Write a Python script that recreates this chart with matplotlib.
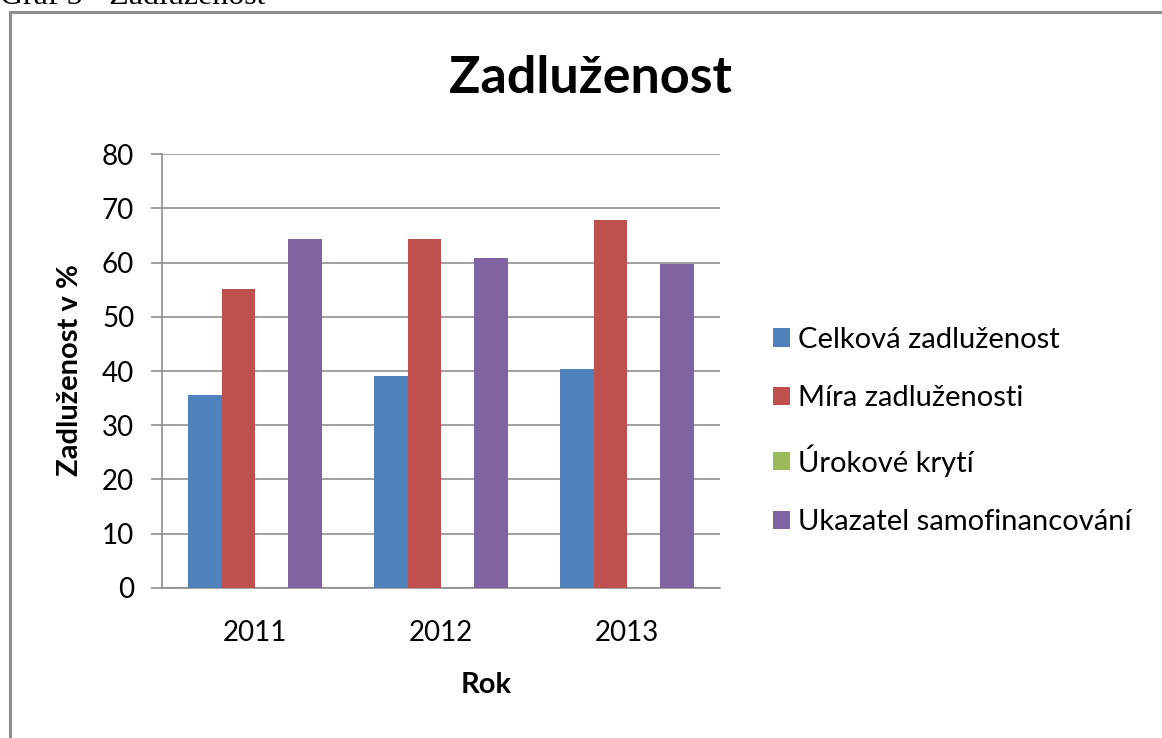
import matplotlib
matplotlib.use("Agg")
import matplotlib.pyplot as plt
from matplotlib.patches import Rectangle
import numpy as np

years = ["2011", "2012", "2013"]
series_names = ["Celková zadluženost", "Míra zadluženosti", "Úrokové krytí", "Ukazatel samofinancování"]
celkova = [35.6, 39.1, 40.4]
mira = [55.1, 64.4, 67.8]
urokove = [0, 0, 0]
samofin = [64.4, 60.9, 59.8]
colors = ["#4F81BD", "#C0504D", "#9BBB59", "#8064A2"]
yticks = [0, 10, 20, 30, 40, 50, 60, 70, 80]

W, H = 1162, 738
fig = plt.figure(figsize=(W / 100, H / 100), dpi=100)
fig.patch.set_facecolor("white")

FONT = "Lato"

# outer chart frame (right/bottom edges outside the image)
fig.patches.append(Rectangle((10 / W, -0.1), 1.2, (H - 12) / H + 0.1,
                             transform=fig.transFigure, fill=False,
                             edgecolor="#8c8c8c", linewidth=2.2))
# cropped caption at the top (cut off in the reference too)
fig.text(0 / W, 1 - 4.5 / H, "Graf 5 - Zadluženost", family="Liberation Serif",
         fontsize=23, va="baseline", ha="left", color="black")

ax = fig.add_axes([162 / W, (H - 587.7) / H, (720 - 162) / W, (587.7 - 154.3) / H])

x = np.arange(len(years))
w = 0.18
data = [celkova, mira, urokove, samofin]
for i, (name, vals, c) in enumerate(zip(series_names, data, colors)):
    ax.bar(x + (i - 1.5) * w, vals, width=w, color=c, label=name, zorder=3)

ax.set_xlim(-0.5, 2.5)
ax.set_ylim(0, 80)
ax.set_yticks(yticks)
ax.set_yticklabels([str(v) for v in yticks], family=FONT, fontsize=20)
ax.set_xticks(x)
ax.set_xticklabels(years, family=FONT, fontsize=20)
ax.grid(axis="y", color="#868686", linewidth=1.1, zorder=0)
ax.set_axisbelow(True)
for s in ["top", "right"]:
    ax.spines[s].set_visible(False)
for s in ["left", "bottom"]:
    ax.spines[s].set_color("#868686")
    ax.spines[s].set_linewidth(1.1)
ax.tick_params(axis="y", length=8, width=1.1, color="#868686", pad=12)
ax.tick_params(axis="x", length=0, pad=23)

fig.text(591 / W, 1 - 93 / H, "Zadluženost", family=FONT, fontweight="bold",
         fontsize=37.5, ha="center", va="baseline")
fig.text(70 / W, 1 - 370 / H, "Zadluženost v %", family=FONT, fontweight="bold",
         fontsize=21, rotation=90, ha="center", va="center")
fig.text(486 / W, 1 - 685 / H, "Rok", family=FONT, fontweight="bold",
         fontsize=21, ha="center", va="center")

leg = fig.legend(loc="center left", bbox_to_anchor=(773 / W, 1 - 431 / H),
                 frameon=False, prop={"family": FONT, "size": 21},
                 handlelength=0.58, handleheight=0.58, handletextpad=0.28,
                 labelspacing=1.12, borderaxespad=0, borderpad=0)

fig.savefig("out.png", dpi=100)
